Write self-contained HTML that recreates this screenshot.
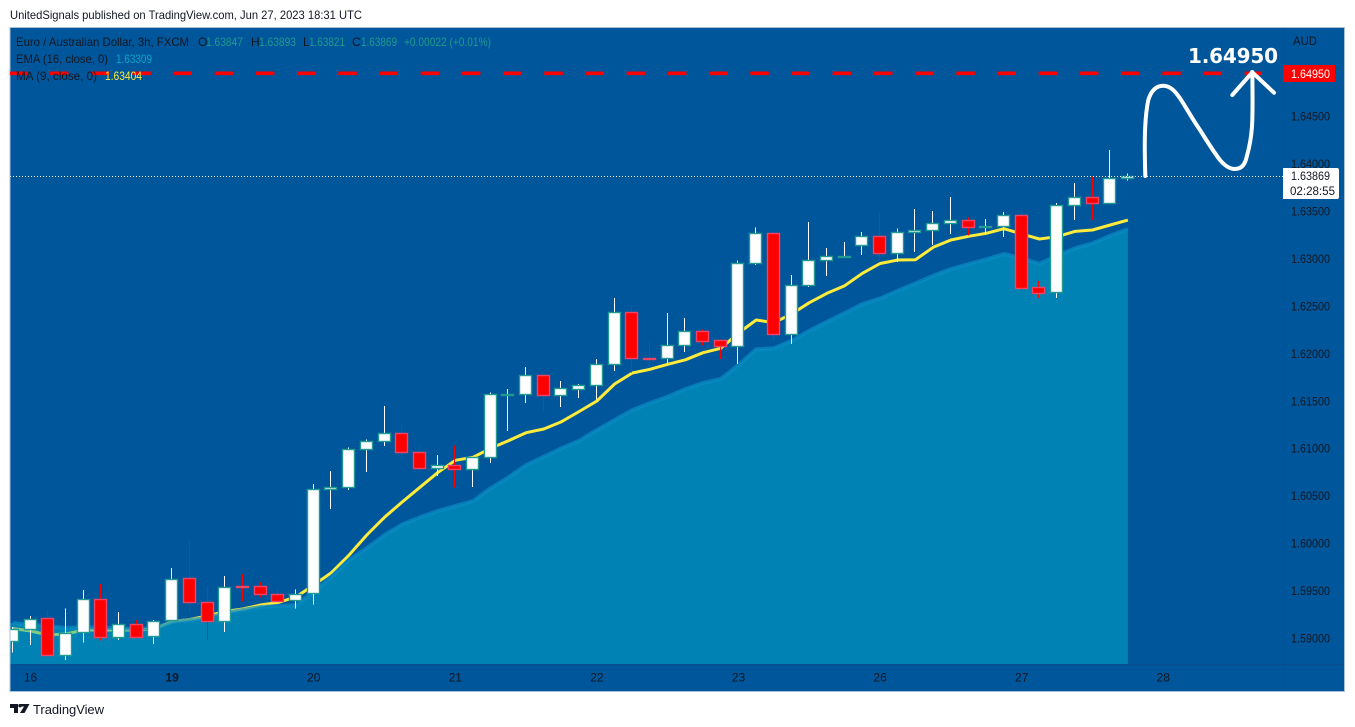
<!DOCTYPE html>
<html lang="en">
<head>
<meta charset="utf-8">
<title>EUR/AUD chart</title>
<style>
html,body{margin:0;padding:0;background:#fff;width:1355px;height:727px;overflow:hidden}
svg{display:block;font-family:"Liberation Sans",sans-serif}
</style>
</head>
<body>
<svg id="chart" width="1355" height="727" viewBox="0 0 1355 727" xmlns="http://www.w3.org/2000/svg">
<text x="10" y="19" font-size="12" fill="#131722" textLength="352" lengthAdjust="spacingAndGlyphs">UnitedSignals published on TradingView.com, Jun 27, 2023 18:31 UTC</text>
<rect x="10" y="27.5" width="1334.5" height="664" fill="#00569a" stroke="#a9c0d8" stroke-width="1"/>
<g id="plot"></g>
<line x1="1283.5" y1="28" x2="1283.5" y2="691" stroke="#0a4f8c" stroke-width="1"/>
<line x1="10.5" y1="664.5" x2="1344" y2="664.5" stroke="#0a4f8c" stroke-width="1"/>
<line id="target-line" x1="10" x2="1262" stroke="#ff0000" stroke-width="3.6" stroke-dasharray="18.5 22.7" stroke-dashoffset="1.3"/>
<line id="last-line" x1="10" x2="1283" stroke="#ffffff" stroke-width="1" stroke-dasharray="1 2"/>
<g font-size="12">
<text x="16" y="46" fill="#131722" textLength="173" lengthAdjust="spacingAndGlyphs">Euro / Australian Dollar, 3h, FXCM</text>
<text x="198" y="46" fill="#131722">O</text>
<text x="206" y="46" fill="#1f9a8c" textLength="37" lengthAdjust="spacingAndGlyphs">1.63847</text>
<text x="251" y="46" fill="#131722">H</text>
<text x="259" y="46" fill="#1f9a8c" textLength="37" lengthAdjust="spacingAndGlyphs">1.63893</text>
<text x="303" y="46" fill="#131722">L</text>
<text x="309" y="46" fill="#1f9a8c" textLength="36" lengthAdjust="spacingAndGlyphs">1.63821</text>
<text x="352" y="46" fill="#131722">C</text>
<text x="361" y="46" fill="#1f9a8c" textLength="36" lengthAdjust="spacingAndGlyphs">1.63869</text>
<text x="404" y="46" fill="#1f9a8c" textLength="87" lengthAdjust="spacingAndGlyphs">+0.00022 (+0.01%)</text>
<text x="16" y="63" fill="#131722" textLength="92" lengthAdjust="spacingAndGlyphs">EMA (16, close, 0)</text>
<text x="116" y="63" fill="#0aa5c8" textLength="36" lengthAdjust="spacingAndGlyphs">1.63309</text>
<text x="16" y="80" fill="#131722" textLength="81" lengthAdjust="spacingAndGlyphs">MA (9, close, 0)</text>
<text x="105" y="80" fill="#ffeb3b" textLength="37" lengthAdjust="spacingAndGlyphs">1.63404</text>
</g>
<text x="1293" y="45" font-size="12" fill="#131722" textLength="24" lengthAdjust="spacingAndGlyphs">AUD</text>
<g id="price-axis"></g>
<g id="time-axis"></g>
<g>
<rect x="1283" y="65" width="52" height="17" fill="#ff0000"/>
<text x="1291" y="78" font-size="12" fill="#ffffff" textLength="39" lengthAdjust="spacingAndGlyphs">1.64950</text>
</g>
<g>
<path d="M1283 168H1337a2 2 0 0 1 2 2V197a2 2 0 0 1 -2 2H1283Z" fill="#ffffff"/>
<text x="1291" y="180" font-size="12" fill="#131722" textLength="39" lengthAdjust="spacingAndGlyphs">1.63869</text>
<text x="1290" y="195" font-size="12" fill="#131722" textLength="45" lengthAdjust="spacingAndGlyphs">02:28:55</text>
</g>
<path d="M1145.3 176C1144.5 150 1144 120 1148.3 100C1151 91 1156 85.7 1163.3 85.7C1170 85.7 1175 91 1180 98.3C1187 109 1193 120 1200 130C1207 141 1213 151 1220 160C1225 166 1230 169 1235 169C1241 169 1245 165 1246.7 156.7C1251 142 1252 130 1252.3 120C1252.8 104 1252.5 88 1252.3 72" fill="none" stroke="#ffffff" stroke-width="4" stroke-linecap="round"/>
<path d="M1232.3 95L1252.3 72.3L1274 92.7" fill="none" stroke="#ffffff" stroke-width="4" stroke-linecap="round" stroke-linejoin="round"/>
<text x="1188" y="63" font-size="20" font-weight="700" fill="#ffffff" style="font-family:'DejaVu Sans',sans-serif" textLength="90">1.64950</text>
<g>
<path d="M10 704H18V713H14V708H10ZM20.5 704H29.5L24.5 713H20L24 706.5H20.5Z" fill="#131722"/>
<circle cx="20" cy="705.7" r="1.7" fill="#131722"/>
<text x="33" y="714" font-size="13" fill="#131722" textLength="71">TradingView</text>
</g>
</svg>
<script>
const opens=[1.58968,1.59092,1.59208,1.58818,1.59060,1.59414,1.59007,1.59151,1.59018,1.59187,1.59629,1.59376,1.59176,1.59545,1.59545,1.59460,1.59397,1.59471,1.60567,1.60594,1.60995,1.61073,1.61157,1.60963,1.60794,1.60820,1.60784,1.60904,1.61568,1.61574,1.61771,1.61564,1.61629,1.61663,1.61884,1.62432,1.61947,1.61947,1.62084,1.62232,1.62137,1.62074,1.62948,1.63264,1.62200,1.62716,1.62986,1.63022,1.63146,1.63233,1.63054,1.63275,1.63296,1.63370,1.63401,1.63334,1.63344,1.63454,1.62695,1.62643,1.63559,1.63644,1.63580,1.63847];
const highs=[1.59116,1.59232,1.59295,1.59313,1.59506,1.59569,1.59274,1.59190,1.59190,1.59738,1.60033,1.59548,1.59653,1.59674,1.59590,1.59513,1.59513,1.60623,1.60760,1.61009,1.61094,1.61445,1.61241,1.61031,1.60928,1.61031,1.60910,1.61585,1.61624,1.61856,1.61771,1.61708,1.61676,1.61940,1.62583,1.62506,1.62119,1.62425,1.62372,1.62253,1.62147,1.62980,1.63328,1.63278,1.62825,1.63383,1.63109,1.63173,1.63278,1.63478,1.63317,1.63520,1.63499,1.63647,1.63433,1.63415,1.63489,1.63538,1.62762,1.63584,1.63794,1.63861,1.64142,1.63893];
const lows=[1.58845,1.58926,1.58818,1.58768,1.58950,1.58972,1.58979,1.59003,1.58937,1.59187,1.59256,1.58979,1.59063,1.59382,1.59425,1.59379,1.59309,1.59351,1.60359,1.60559,1.60749,1.61023,1.60876,1.60739,1.60707,1.60588,1.60591,1.60844,1.61181,1.61476,1.61392,1.61434,1.61529,1.61515,1.61813,1.61800,1.61852,1.61898,1.62014,1.62084,1.61940,1.61887,1.62930,1.62130,1.62098,1.62698,1.62814,1.63015,1.63036,1.62983,1.62962,1.63067,1.63141,1.63257,1.63243,1.63257,1.63225,1.62656,1.62583,1.62583,1.63404,1.63404,1.63580,1.63821];
const closes=[1.59092,1.59203,1.58818,1.59056,1.59414,1.59007,1.59151,1.59014,1.59182,1.59625,1.59376,1.59176,1.59541,1.59540,1.59460,1.59393,1.59467,1.60567,1.60594,1.60995,1.61073,1.61157,1.60963,1.60794,1.60820,1.60784,1.60904,1.61568,1.61574,1.61771,1.61564,1.61631,1.61663,1.61884,1.62432,1.61947,1.61942,1.62084,1.62232,1.62133,1.62074,1.62948,1.63264,1.62200,1.62716,1.62986,1.63022,1.63027,1.63233,1.63054,1.63275,1.63296,1.63370,1.63401,1.63334,1.63340,1.63454,1.62691,1.62638,1.63559,1.63644,1.63580,1.63844,1.63869];
const maValues=[1.59100,1.59074,1.59032,1.59042,1.59084,1.59084,1.59084,1.59084,1.59095,1.59174,1.59195,1.59232,1.59279,1.59306,1.59348,1.59374,1.59432,1.59558,1.59688,1.59875,1.60085,1.60272,1.60433,1.60588,1.60742,1.60872,1.60904,1.60999,1.61079,1.61163,1.61202,1.61279,1.61387,1.61497,1.61676,1.61792,1.61831,1.61884,1.61932,1.62006,1.62053,1.62214,1.62351,1.62322,1.62414,1.62533,1.62632,1.62712,1.62843,1.62946,1.62983,1.62986,1.63117,1.63194,1.63233,1.63264,1.63313,1.63257,1.63204,1.63229,1.63285,1.63299,1.63352,1.63404];
const emaValues=[1.59158,1.59137,1.59126,1.59105,1.59116,1.59105,1.59105,1.59095,1.59105,1.59169,1.59190,1.59211,1.59263,1.59295,1.59327,1.59337,1.59348,1.59485,1.59646,1.59822,1.59948,1.60085,1.60198,1.60272,1.60338,1.60391,1.60444,1.60577,1.60693,1.60823,1.60910,1.60999,1.61079,1.61192,1.61297,1.61402,1.61476,1.61543,1.61624,1.61687,1.61729,1.61877,1.62042,1.62053,1.62133,1.62238,1.62333,1.62425,1.62519,1.62579,1.62660,1.62737,1.62818,1.62888,1.62941,1.62990,1.63046,1.63001,1.62944,1.63028,1.63106,1.63159,1.63239,1.63309];
const priceTicks=[1.645,1.64,1.635,1.63,1.625,1.62,1.615,1.61,1.605,1.6,1.595,1.59];
const timeLabels=["16","19","20","21","22","23","26","27","28"];
const timeIndices=[1,9,17,25,33,41,49,57,65];
const boldLabels=["19"];
const targetPrice=1.6495;
const lastPrice=1.63869;

const SVGNS="http://www.w3.org/2000/svg";
function xAt(i){return 12.8+17.7*i;}
function yAt(p){return 638-(p-1.59)/0.005*47.45;}
function make(tag,parent,attrs){
  const el=document.createElementNS(SVGNS,tag);
  for(const k in attrs){el.setAttribute(k,attrs[k]);}
  parent.appendChild(el);
  return el;
}
const plot=document.getElementById('plot');
const defs=make('defs',plot,{});
const clip=make('clipPath',defs,{id:'plot-clip'});
make('rect',clip,{x:10.5,y:28,width:1273,height:663});
plot.setAttribute('clip-path','url(#plot-clip)');

function pts(vals){return vals.map(function(v,i){return xAt(i).toFixed(1)+','+yAt(v).toFixed(1);});}

const maLine=make('polyline',plot,{points:pts(maValues).join(' '),fill:'none',stroke:'#ffeb3b','stroke-width':3,'stroke-linejoin':'round'});



const bottomY=664;
const areaD='M'+xAt(0).toFixed(1)+' '+bottomY+' L'+pts(emaValues).join(' L')+' L'+xAt(emaValues.length-1).toFixed(1)+' '+bottomY+'Z';
const area=make('path',plot,{d:areaD,fill:'#00b0cd','fill-opacity':0.5});


const emaLine=make('polyline',plot,{points:pts(emaValues).join(' '),fill:'none',stroke:'#0a8cc4','stroke-width':4,'stroke-opacity':0.7,'stroke-linejoin':'round'});


// cover the area's left start so it runs to the panel edge
const areaLead=make('polygon',plot,{points:'10.5,'+bottomY+' 10.5,'+yAt(emaValues[0]).toFixed(1)+' '+xAt(0).toFixed(1)+','+yAt(emaValues[0]).toFixed(1)+' '+xAt(0).toFixed(1)+','+bottomY,fill:'#00b0cd','fill-opacity':0.5});



opens.forEach(function(o,i){
  const c=closes[i];
  const up=c>=o;
  const cx=Math.round(xAt(i))-1;
  const g=make('g',plot,{});
  
  
  const wick=make('line',g,{x1:cx+0.5,x2:cx+0.5,y1:yAt(highs[i]).toFixed(1),y2:yAt(lows[i]).toFixed(1),stroke:up?'#ffffff':'#ff0000','stroke-width':1.1,'shape-rendering':'crispEdges'});
  
  
  const top=Math.round(yAt(Math.max(o,c)));
  const bot=Math.round(yAt(Math.min(o,c)));
  const body=make('rect',g,{x:cx-5.5,y:top+0.5,width:12,height:Math.max(bot-top,1),fill:up?'#ffffff':'#ff0000',stroke:up?'#229a91':'#ee4466','stroke-width':1.4});
  
  
});

const tl=document.getElementById('target-line');
tl.setAttribute('y1',yAt(targetPrice).toFixed(1));
tl.setAttribute('y2',yAt(targetPrice).toFixed(1));
const ll=document.getElementById('last-line');
ll.setAttribute('y1',Math.round(yAt(lastPrice))+0.5);
ll.setAttribute('y2',Math.round(yAt(lastPrice))+0.5);

const pa=document.getElementById('price-axis');
priceTicks.forEach(function(p){
  const t=make('text',pa,{x:1291,y:(yAt(p)+4.5).toFixed(1),'font-size':12,fill:'#131722',textLength:39,lengthAdjust:'spacingAndGlyphs'});
  
  
  t.textContent=p.toFixed(5);
});
const ta=document.getElementById('time-axis');
timeLabels.forEach(function(lbl,k){
  const isBold=boldLabels.indexOf(lbl)>=0;
  const t=make('text',ta,{x:xAt(timeIndices[k]).toFixed(1),y:681.5,'font-size':12,fill:'#131722','text-anchor':'middle','font-weight':isBold?'700':'400'});
  
  
  t.textContent=lbl;
});
</script>
</body>
</html>
